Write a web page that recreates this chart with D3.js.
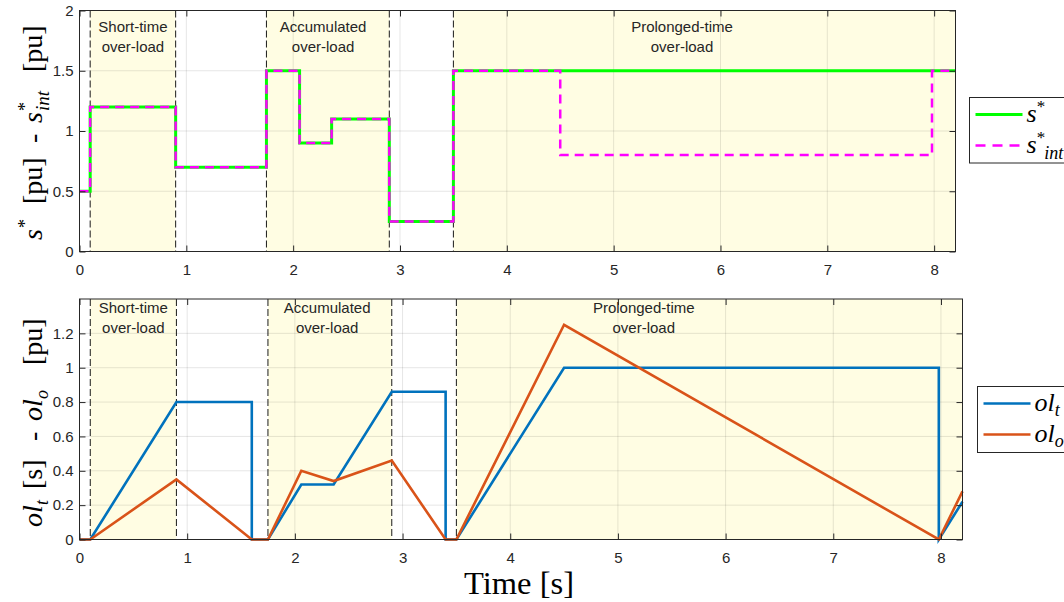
<!DOCTYPE html>
<html>
<head>
<meta charset="utf-8">
<script src="https://cdn.jsdelivr.net/npm/d3@7"></script>
<style>
  body { margin: 0; background: #fff; }
  .tick text { font-family: "Liberation Sans", Arial, sans-serif; font-size: 15px; fill: #262626; }
  .ann { font-family: "Liberation Sans", Arial, sans-serif; font-size: 15px; fill: #262626; }
  .tex { font-family: "Liberation Serif", "DejaVu Serif", serif; fill: #000; }
</style>
</head>
<body>
<div id="chart"></div>
<script>
// x ticks shared by both panels
var xTicks = [0, 1, 2, 3, 4, 5, 6, 7, 8];
var topYTicks = [0, 0.5, 1, 1.5, 2];
var botYTicks = [0, 0.2, 0.4, 0.6, 0.8, 1, 1.2];

// overload zones (shaded) and the dashed boundaries
var zones = [[0.1, 0.9], [1.75, 2.9], [3.5, 8.2]];
var boundaries = [0.1, 0.9, 1.75, 2.9, 3.5, 8.2];

// top panel: step signals (value holds until the next time)
var sStarTimes = [0, 0.1, 0.9, 1.75, 2.06, 2.36, 2.9, 3.5, 8.2];
var sStarValues = [0.5, 1.2, 0.7, 1.5, 0.9, 1.1, 0.25, 1.5, 1.5];
var sIntTimes = [0, 0.1, 0.9, 1.75, 2.06, 2.36, 2.9, 3.5, 4.5, 7.98, 8.2];
var sIntValues = [0.5, 1.2, 0.7, 1.5, 0.9, 1.1, 0.25, 1.5, 0.8, 1.5, 1.5];

// bottom panel: overload counters
var olTTimes = [0, 0.1, 0.9, 1.6, 1.6, 1.75, 2.06, 2.36, 2.9, 3.4, 3.4, 3.5, 4.5, 7.98, 7.98, 8.2];
var olTValues = [0, 0, 0.8, 0.8, 0, 0, 0.32, 0.32, 0.86, 0.86, 0, 0, 1.0, 1.0, 0, 0.22];
var olOTimes = [0, 0.1, 0.9, 1.6, 1.75, 2.06, 2.36, 2.9, 3.4, 3.5, 4.5, 7.98, 8.2];
var olOValues = [0, 0, 0.35, 0, 0, 0.40, 0.34, 0.46, 0, 0, 1.25, 0, 0.28];

// zone labels: [x, line1, line2]
var topLabels = [[0.5, "Short-time", "over-load"], [2.28, "Accumulated", "over-load"], [5.64, "Prolonged-time", "over-load"]];
var botLabels = [[0.5, "Short-time", "over-load"], [2.3, "Accumulated", "over-load"], [5.24, "Prolonged-time", "over-load"]];

var svg = d3.select("#chart")
    .append("svg")
    .attr("width", 1064)
    .attr("height", 602);

function zip(xs, ys) {
    return xs.map(function(x, i) { return [x, ys[i]]; });
}

function drawPanel(p) {
    var g = svg.append("g")
        .attr("transform", "translate(" + p.left + "," + p.top + ")");

    var x = d3.scaleLinear().domain([0, 8.2]).range([0, p.width]);
    var y = d3.scaleLinear().domain(p.yDomain).range([p.height, 0]);

    // shaded zones
    g.selectAll(".zone")
        .data(zones)
        .enter().append("rect")
        .attr("x", function(d) { return x(d[0]); })
        .attr("y", 0)
        .attr("width", function(d) { return x(d[1]) - x(d[0]); })
        .attr("height", p.height)
        .style("fill", "#fffde3");

    // grid
    g.selectAll(".gx")
        .data(xTicks)
        .enter().append("line")
        .attr("x1", function(d) { return x(d); })
        .attr("x2", function(d) { return x(d); })
        .attr("y1", 0)
        .attr("y2", p.height)
        .style("stroke", "rgba(0,0,0,0.1)");
    g.selectAll(".gy")
        .data(p.yTicks)
        .enter().append("line")
        .attr("x1", 0)
        .attr("x2", p.width)
        .attr("y1", function(d) { return y(d); })
        .attr("y2", function(d) { return y(d); })
        .style("stroke", "rgba(0,0,0,0.1)");

    // dashed boundaries
    g.selectAll(".bnd")
        .data(boundaries)
        .enter().append("line")
        .attr("x1", function(d) { return x(d); })
        .attr("x2", function(d) { return x(d); })
        .attr("y1", 0)
        .attr("y2", p.height)
        .style("stroke", "#000")
        .style("stroke-width", 0.9)
        .style("stroke-dasharray", "7,3");

    // zone labels
    p.labels.forEach(function(l) {
        g.append("text").attr("class", "ann")
            .attr("x", x(l[0])).attr("y", p.labelY)
            .attr("text-anchor", "middle").text(l[1]);
        g.append("text").attr("class", "ann")
            .attr("x", x(l[0])).attr("y", p.labelY + 20)
            .attr("text-anchor", "middle").text(l[2]);
    });

    // series
    p.series.forEach(function(s) {
        var line = d3.line()
            .x(function(d) { return x(d[0]); })
            .y(function(d) { return y(d[1]); })
            .curve(s.step ? d3.curveStepAfter : d3.curveLinear);
        g.append("path")
            .datum(s.data)
            .attr("d", line)
            .style("fill", "none")
            .style("stroke", s.color)
            .style("stroke-width", s.width)
            .style("stroke-dasharray", s.dash || null);
    });

    // axes, ticks inside on all sides
    g.append("g")
        .attr("transform", "translate(0," + p.height + ")")
        .call(d3.axisBottom(x).tickValues(xTicks).tickSize(-6).tickPadding(13).tickFormat(d3.format("")));
    g.append("g")
        .call(d3.axisTop(x).tickValues(xTicks).tickSize(-6).tickFormat(""));
    g.append("g")
        .call(d3.axisLeft(y).tickValues(p.yTicks).tickSize(-6).tickPadding(6).tickFormat(d3.format("")));
    g.append("g")
        .attr("transform", "translate(" + p.width + ",0)")
        .call(d3.axisRight(y).tickValues(p.yTicks).tickSize(-6).tickFormat(""));
    g.selectAll(".domain").remove();
    g.selectAll(".tick line").style("stroke", "#262626");

    g.append("rect")
        .attr("width", p.width)
        .attr("height", p.height)
        .style("fill", "none")
        .style("stroke", "#262626")
        .style("stroke-width", 1);

    return g;
}

drawPanel({
    left: 79.5, top: 10.5, width: 876, height: 241,
    yDomain: [0, 2], yTicks: topYTicks,
    labels: topLabels, labelY: 21,
    series: [
        { data: zip(sStarTimes, sStarValues), color: "#00ff00", width: 3, step: true },
        { data: zip(sIntTimes, sIntValues), color: "#ff00ff", width: 2.5, step: true, dash: "9,6" }
    ]
});

drawPanel({
    left: 79.5, top: 299, width: 883, height: 240.5,
    yDomain: [0, 1.4], yTicks: botYTicks,
    labels: botLabels, labelY: 13.5,
    series: [
        { data: zip(olTTimes, olTValues), color: "#0072bd", width: 2.6 },
        { data: zip(olOTimes, olOValues), color: "#d95319", width: 2.6 }
    ]
});

// y labels (LaTeX-like), pieces placed along the rotated axis
function texLabel(tx, ty, pieces) {
    var t = svg.append("text").attr("class", "tex")
        .attr("transform", "translate(" + tx + "," + ty + ") rotate(-90)")
        .style("font-size", "28px");
    pieces.forEach(function(pc) {
        var s = t.append("tspan")
            .attr("x", pc[1])
            .attr("y", pc[2])
            .text(pc[0]);
        if (pc[3]) s.style("font-style", "italic");
        if (pc[4]) s.style("font-size", pc[4] + "px");
    });
}

texLabel(42, 240, [
    ["s", 0, 0, true], ["*", 12, -11, false, 18], ["[pu]", 36, 0],
    ["-", 97, 0], ["s", 117, 0, true], ["*", 129, -11, false, 18],
    ["int", 129, 7, true, 19], ["[pu]", 168, 0]
]);

texLabel(42, 527, [
    ["ol", 0, 0, true], ["t", 22, 6, true, 18], ["[s]", 38, 0],
    ["-", 86, 0], ["ol", 106, 0, true], ["o", 128, 6, true, 18], ["[pu]", 162, 0]
]);

svg.append("text").attr("class", "tex")
    .attr("x", 519).attr("y", 594)
    .attr("text-anchor", "middle")
    .attr("textLength", 110)
    .attr("lengthAdjust", "spacingAndGlyphs")
    .style("font-size", "32px")
    .text("Time [s]");

// legends
function legend(x0, y0, h, items) {
    var lg = svg.append("g").attr("transform", "translate(" + x0 + "," + y0 + ")");
    lg.append("rect")
        .attr("width", 120).attr("height", h)
        .style("fill", "#fff").style("stroke", "#262626");
    items.forEach(function(it) {
        var yy = it.y;
        lg.append("line")
            .attr("x1", 6).attr("x2", 53).attr("y1", yy).attr("y2", yy)
            .style("stroke", it.color).style("stroke-width", it.width)
            .style("stroke-dasharray", it.dash || null);
        var t = lg.append("text").attr("class", "tex")
            .attr("x", 57).attr("y", yy + 7)
            .style("font-size", "26px");
        it.build(t);
    });
}

legend(969.5, 97.5, 65.5, [
    { y: 17, color: "#00ff00", width: 3, build: function(t) {
        t.append("tspan").style("font-style", "italic").text("s");
        t.append("tspan").attr("dy", -10).style("font-size", "17px").text("*");
    } },
    { y: 48, color: "#ff00ff", width: 2.5, dash: "10,7", build: function(t) {
        t.append("tspan").style("font-style", "italic").text("s");
        t.append("tspan").attr("dy", -10).style("font-size", "17px").text("*");
        t.append("tspan").attr("dx", -1).attr("dy", 16).style("font-size", "18px").style("font-style", "italic").text("int");
    } }
]);

legend(977.5, 386.5, 66, [
    { y: 17, color: "#0072bd", width: 2.6, build: function(t) {
        t.append("tspan").style("font-style", "italic").text("ol");
        t.append("tspan").attr("dy", 5).style("font-size", "18px").style("font-style", "italic").text("t");
    } },
    { y: 48, color: "#d95319", width: 2.6, build: function(t) {
        t.append("tspan").style("font-style", "italic").text("ol");
        t.append("tspan").attr("dy", 5).style("font-size", "18px").style("font-style", "italic").text("o");
    } }
]);
</script>
</body>
</html>
